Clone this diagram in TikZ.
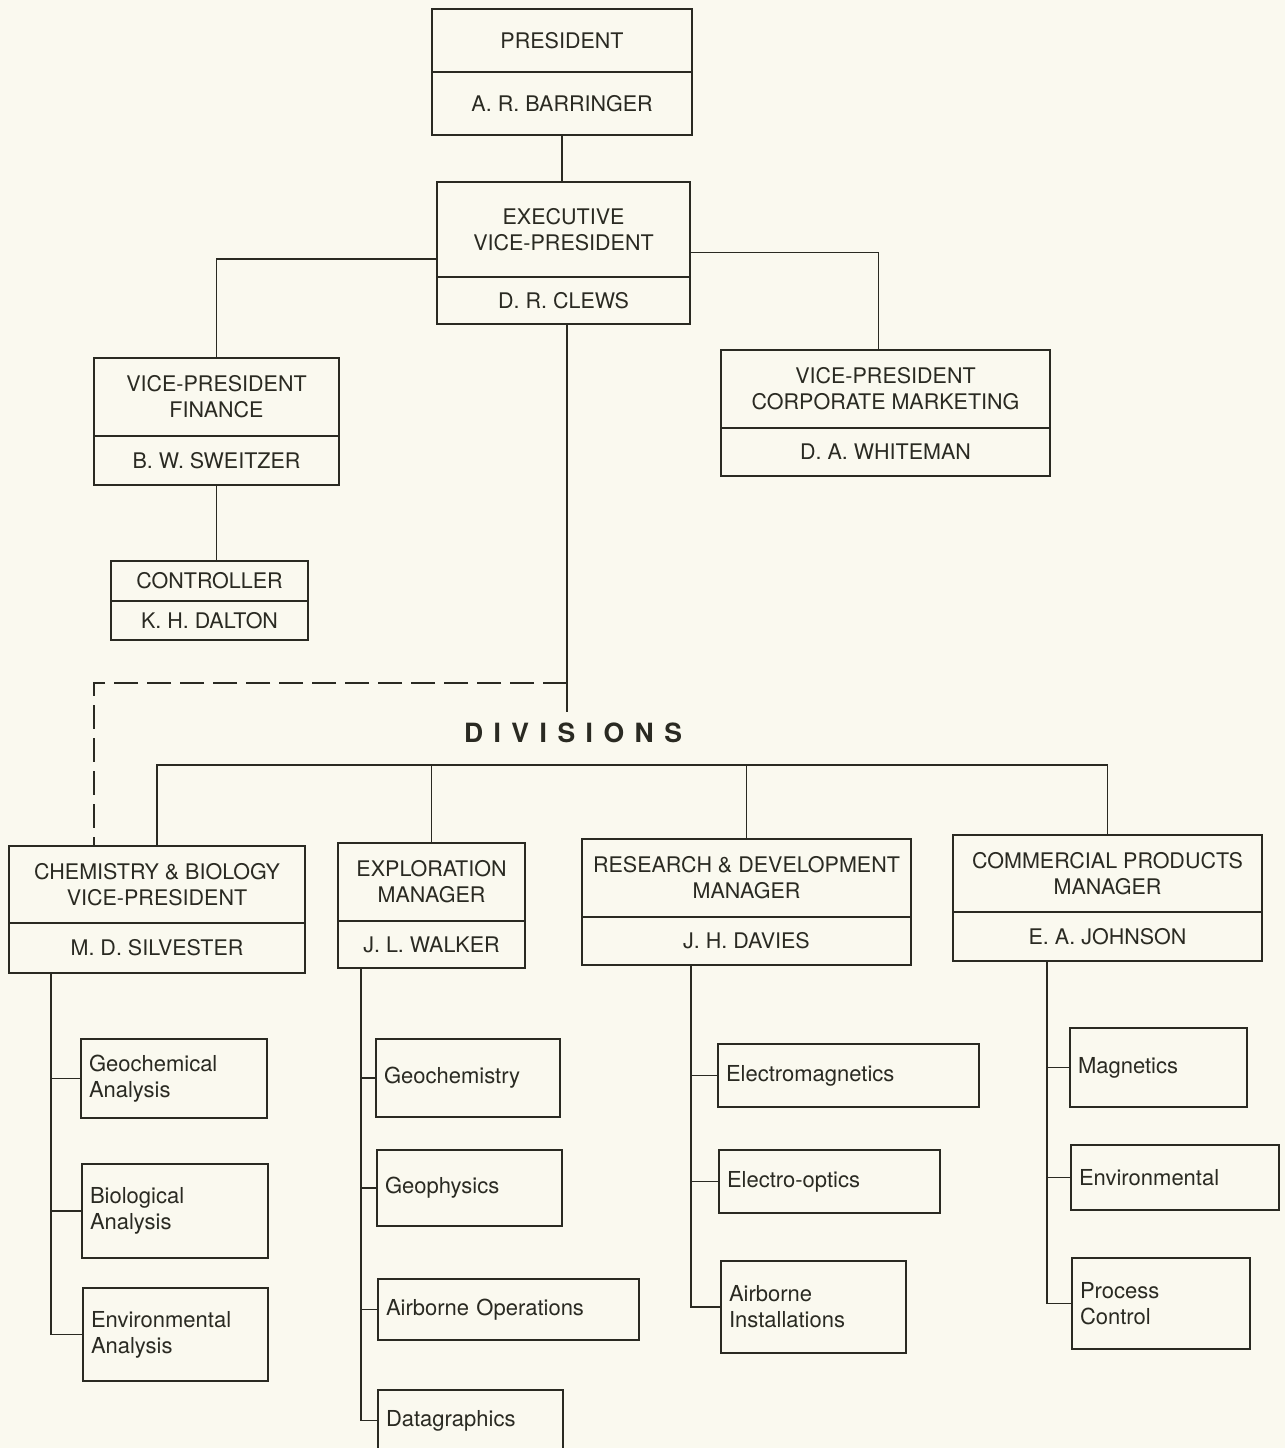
\documentclass[tikz,border=0pt]{standalone}
\usepackage{fontspec}
\setmainfont{TeX Gyre Heros}
\usetikzlibrary{calc}
\definecolor{bg}{HTML}{FAF9EF}
\definecolor{ink}{HTML}{2A2A22}
\tikzset{
  partbox/.style={draw=ink, line width=1.9pt, inner sep=0pt, align=center,
    font=\fontsize{21.5}{26}\selectfont, text=ink},
  leafbox/.style={draw=ink, line width=1.9pt, inner xsep=8pt, inner ysep=0pt,
    align=left, font=\fontsize{22}{26}\selectfont, text=ink},
  conn/.style={draw=ink, line width=1.9pt},
  dashconn/.style={draw=ink, line width=1.9pt, dash pattern=on 24pt off 9pt},
  divtitle/.style={font=\fontsize{26.5}{30}\selectfont\bfseries, text=ink, inner sep=0pt}
}
\newcommand\orgbox[8]{%
  \pgfmathsetmacro\obw{#4-#2}\pgfmathsetmacro\obx{(#2+#4)/2}%
  \pgfmathsetmacro\obha{#5-#3}\pgfmathsetmacro\obya{(#3+#5)/2}%
  \pgfmathsetmacro\obhb{#6-#5}\pgfmathsetmacro\obyb{(#5+#6)/2}%
  \node[partbox,minimum width=\obw pt,minimum height=\obha pt] (#1t) at (\obx,\obya) {#7};%
  \node[partbox,minimum width=\obw pt,minimum height=\obhb pt] (#1b) at (\obx,\obyb) {#8};}
\newcommand\leaf[6]{%
  \pgfmathsetmacro\lfw{#3-#2}\pgfmathsetmacro\lftw{#3-#2-16}\pgfmathsetmacro\lfx{(#2+#3)/2}%
  \pgfmathsetmacro\lfh{#5-#4}\pgfmathsetmacro\lfy{(#4+#5)/2}%
  \node[leafbox,minimum width=\lfw pt,minimum height=\lfh pt,text width=\lftw pt] (#1) at (\lfx,\lfy) {#6};}
\begin{document}
\begin{tikzpicture}[x=1pt,y=-1pt]
\fill[bg] (0,0) rectangle (1285,1448);
\useasboundingbox (0,0) rectangle (1285,1448);

% top management
\orgbox{pres}{432}{9}{692}{72}{135}{PRESIDENT}{A. R. BARRINGER}
\orgbox{exec}{437}{182}{690}{277}{324}{EXECUTIVE\\VICE-PRESIDENT}{D. R. CLEWS}
\orgbox{vpf}{94}{358}{339}{436}{485}{VICE-PRESIDENT\\FINANCE}{B. W. SWEITZER}
\orgbox{ctl}{111}{561}{308}{601}{640}{CONTROLLER}{K. H. DALTON}
\orgbox{vpm}{721}{350}{1050}{428}{476}{VICE-PRESIDENT\\CORPORATE MARKETING}{D. A. WHITEMAN}

% divisions
\orgbox{chem}{9}{846}{305}{923}{973}{CHEMISTRY \& BIOLOGY\\VICE-PRESIDENT}{M. D. SILVESTER}
\orgbox{expl}{338}{843}{525}{921}{968}{EXPLORATION\\MANAGER}{J. L. WALKER}
\orgbox{rd}{582}{839}{911}{917}{965}{RESEARCH \& DEVELOPMENT\\MANAGER}{J. H. DAVIES}
\orgbox{com}{953}{835}{1262}{912}{961}{COMMERCIAL PRODUCTS\\MANAGER}{E. A. JOHNSON}

\node[divtitle] (divs) at (573,733) {D\kern10.5pt I\kern10.5pt V\kern10.5pt I\kern10.5pt S\kern10.5pt I\kern10.5pt O\kern10.5pt N\kern10.5pt S};

% leaves
\leaf{c1}{81}{267}{1039}{1118}{Geochemical\\Analysis}
\leaf{c2}{82}{268}{1164}{1258}{Biological\\Analysis}
\leaf{c3}{83}{268}{1288}{1381}{Environmental\\Analysis}
\leaf{e1}{376}{560}{1039}{1117}{Geochemistry}
\leaf{e2}{377}{562}{1150}{1226}{Geophysics}
\leaf{e3}{378}{639}{1279}{1340}{Airborne Operations}
\leaf{e4}{378}{563}{1390}{1451}{Datagraphics}
\leaf{r1}{718}{979}{1044}{1107}{Electromagnetics}
\leaf{r2}{719}{940}{1150}{1213}{Electro-optics}
\leaf{r3}{721}{906}{1261}{1353}{Airborne\\Installations}
\leaf{m1}{1070}{1247}{1028}{1107}{Magnetics}
\leaf{m2}{1071}{1279}{1145}{1210}{Environmental}
\leaf{m3}{1072}{1250}{1258}{1349}{Process\\Control}

% connectors, top part
\draw[conn] (presb.south) -- (presb.south |- exect.north);
\draw[conn] ($(exect.south west)!0.2!(exect.north west)$) -| (vpft.north);
\draw[conn] ($(exect.south east)!0.263!(exect.north east)$) -| ($(vpmt.north)+(-7,0)$);
\draw[conn] (vpfb.south) -- (vpfb.south |- ctlt.north);
\coordinate (divtop) at (567,712);
\coordinate (dashj) at (567,683);
\draw[conn] ($(execb.south)+(3.5,0)$) -- (divtop);
\draw[dashconn] (dashj) -| ($(chemt.north west)+(86,0)$);

% bus to divisions
\coordinate (bus) at (0,765);
\draw[conn] (chemt.north) |- (bus -| comt.north) -- (comt.north);
\draw[conn] (explt.north) -- (explt.north |- bus);
\draw[conn] (rdt.north) -- (rdt.north |- bus);

% spines
\coordinate (cs) at ($(chemb.south west)+(43,0)$);
\draw[conn] (cs) |- (c3.west);
\draw[conn] (c1.west) -- (c1.west -| cs);
\draw[conn] (c2.west) -- (c2.west -| cs);

\coordinate (es) at ($(explb.south west)+(24,0)$);
\draw[conn] (es) |- (e4.west);
\draw[conn] (e1.west) -- (e1.west -| es);
\draw[conn] (e2.west) -- (e2.west -| es);
\draw[conn] (e3.west) -- (e3.west -| es);

\coordinate (rs) at ($(rdb.south west)+(110,0)$);
\draw[conn] (rs) |- (r3.west);
\draw[conn] (r1.west) -- (r1.west -| rs);
\draw[conn] (r2.west) -- (r2.west -| rs);

\coordinate (ms) at ($(comb.south west)+(95,0)$);
\draw[conn] (ms) |- (m3.west);
\draw[conn] (m1.west) -- (m1.west -| ms);
\draw[conn] (m2.west) -- (m2.west -| ms);
\end{tikzpicture}
\end{document}
